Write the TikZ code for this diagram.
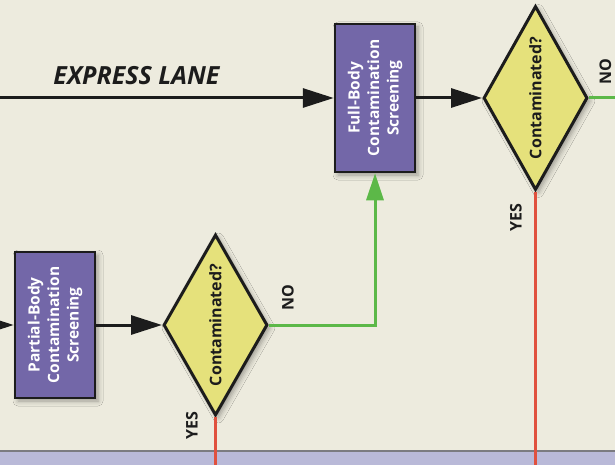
\documentclass[tikz,border=0pt]{standalone}
\usepackage{fontspec}
\setmainfont{Open Sans}
\usetikzlibrary{shapes.geometric,arrows.meta,shadows.blur}
\definecolor{bg}{HTML}{EDEBDE}
\definecolor{band}{HTML}{B9B9D8}
\definecolor{bandline}{HTML}{7B7B80}
\definecolor{boxfill}{HTML}{7367A8}
\definecolor{dfill}{HTML}{E5E17B}
\definecolor{gline}{HTML}{5CB848}
\definecolor{rline}{HTML}{E0513E}
\definecolor{ink}{HTML}{1C1C1C}
\begin{document}
\begin{tikzpicture}[x=1pt,y=-1pt,
  shade3/.style={blur shadow={shadow xshift=3pt, shadow yshift=-3pt, shadow opacity=35, shadow blur radius=5pt}},
  procbox/.style={draw=ink, line width=2.5pt, fill=boxfill, minimum width=80pt, inner sep=0pt, shade3},
  decision/.style={diamond, draw=ink, line width=3pt, fill=dfill, inner sep=0pt, minimum width=104pt, shade3},
  boxtext/.style={rotate=90, text=white, font=\fontsize{15.5}{19.5}\selectfont\bfseries, align=center},
  dtext/.style={rotate=90, text=ink, font=\fontsize{16}{19}\selectfont\bfseries},
  lbl/.style={rotate=90, text=ink, inner sep=1pt, font=\fontsize{16}{19}\selectfont\bfseries},
  flow/.style={draw=ink, line width=3pt, -{Triangle[length=31pt,width=19pt]}},
  noflow/.style={draw=gline, line width=3pt},
  yesflow/.style={draw=rline, line width=2.5pt},
]
\useasboundingbox (0,0) rectangle (615,465);
\fill[bg] (0,0) rectangle (615,465);
\fill[band] (0,451) rectangle (615,465);
\draw[bandline, line width=1.5pt] (0,451) -- (615,451);

% nodes
\node[procbox, minimum height=146pt] (partial) at (55,325) {};
\node[boxtext] (partialtext) at (partial) {Partial-Body\\Contamination\\Screening};
\node[procbox, minimum height=148pt] (full) at (375,98) {};
\node[boxtext] (fulltext) at (full) {Full-Body\\Contamination\\Screening};

\node[decision, minimum height=184pt] (d1) at (535.5,98) {};
\node[dtext] (d1text) at (d1) {Contaminated?};
\node[decision, minimum height=181pt] (d2) at (215.5,325) {};
\node[dtext] (d2text) at (d2) {Contaminated?};

\node[anchor=base, text=ink, font=\fontsize{25}{30}\selectfont\bfseries\itshape] (express) at (136.5,85) {EXPRESS LANE};

\node[lbl] (no1) at (605.5,72) {NO};
\node[lbl] (yes1) at (516,218) {YES};
\node[lbl] (no2) at (288,298) {NO};
\node[lbl] (yes2) at (192,426) {YES};

% free ends
\coordinate (expin) at (0,98);
\coordinate (partin) at (0,325);
\coordinate (noout) at (615,98);
\coordinate (yesout1) at (535.5,465);
\coordinate (yesout2) at (215.5,465);

% connectors
\draw[flow] (expin) -- (full.west);
\draw[flow] (partin) -- (partial.west);
\draw[flow] (full.east) -- (d1.west);
\draw[flow] (partial.east) -- (d2.west);
\draw[noflow] (d1.east) -- (noout);
\draw[noflow, -{Triangle[length=27pt,width=17pt]}] (d2.east) -| (full.south);
\draw[yesflow] (d1.south) -- (yesout1);
\draw[yesflow] (d2.south) -- (yesout2);
\end{tikzpicture}
\end{document}
